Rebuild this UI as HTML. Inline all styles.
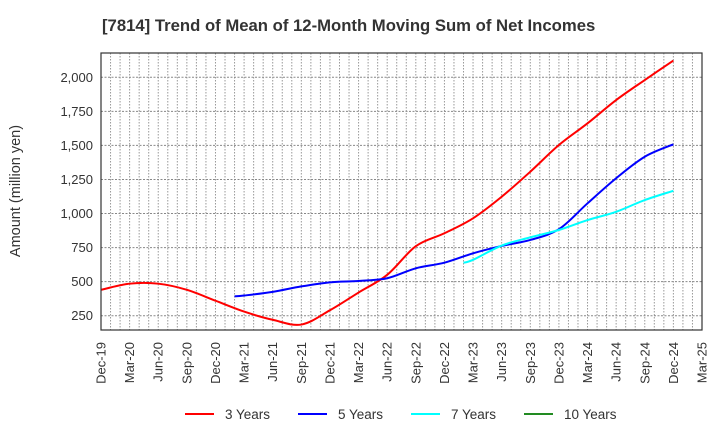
<!DOCTYPE html>
<html><head><meta charset="utf-8"><style>
body{margin:0;background:#fff;}
svg{display:block;font-family:"Liberation Sans",Arial,sans-serif;}
</style></head><body>
<svg id="chart" width="720" height="440">
<text x="102" y="31" font-size="16.7" font-weight="bold" fill="#333">[7814]  Trend of Mean of 12-Month Moving Sum of Net Incomes</text>
<g id="grid"></g>
<g id="series"></g>
<rect x="101" y="53" width="601" height="277" fill="none" stroke="#333" stroke-width="1.2"/>
<g id="yaxis"></g>
<g id="xaxis"></g>
<text transform="translate(20,191) rotate(-90)" text-anchor="middle" font-size="14.5" fill="#333">Amount (million yen)</text>
<g id="legend"></g>
</svg>
<script>
const categories=["Dec-19","Mar-20","Jun-20","Sep-20","Dec-20","Mar-21","Jun-21","Sep-21","Dec-21","Mar-22","Jun-22","Sep-22","Dec-22","Mar-23","Jun-23","Sep-23","Dec-23","Mar-24","Jun-24","Sep-24","Dec-24","Mar-25"];
const yTicks=[250,500,750,1000,1250,1500,1750,2000];
const seriesNames=["3 Years","5 Years","7 Years","10 Years"];
const seriesColors=["#ff0000","#0000ff","#00ffff","#228b22"];
const s3Months=["Dec-19","Mar-20","Jun-20","Sep-20","Dec-20","Mar-21","Jun-21","Sep-21","Dec-21","Mar-22","Jun-22","Sep-22","Dec-22","Mar-23","Jun-23","Sep-23","Dec-23","Mar-24","Jun-24","Sep-24","Dec-24"];
const s3=[440,485,485,440,360,280,220,185,290,420,550,760,855,965,1123,1307,1503,1662,1833,1980,2123];
const s5Months=["Feb-21","Mar-21","Jun-21","Sep-21","Dec-21","Mar-22","Jun-22","Sep-22","Dec-22","Mar-23","Jun-23","Sep-23","Dec-23","Mar-24","Jun-24","Sep-24","Dec-24"];
const s5=[392,398,425,465,495,505,525,598,639,708,762,806,885,1075,1259,1417,1508];
const s7Months=["Feb-23","Mar-23","Jun-23","Sep-23","Dec-23","Mar-24","Jun-24","Sep-24","Dec-24"];
const s7=[639,660,765,825,879,952,1013,1099,1167];
const s10Months=[];
const s10=[];
const allSeries=[[s3Months,s3],[s5Months,s5],[s7Months,s7],[s10Months,s10]];

const MN=["Jan","Feb","Mar","Apr","May","Jun","Jul","Aug","Sep","Oct","Nov","Dec"];
const monthIdx=l=>{const [m,y]=l.split('-');return (parseInt(y)-19)*12+MN.indexOf(m)-11;};
const X0=101,X1=702,Y0=330,Y1=53;
const nm=(categories.length-1)*3;
const xm=i=>X0+i*(X1-X0)/nm;
const yv=v=>315.7-(v-250)*(315.7-77.3)/1750;
const NS="http://www.w3.org/2000/svg";
function mk(tag,attrs,parent){const e=document.createElementNS(NS,tag);for(const k in attrs)e.setAttribute(k,attrs[k]);parent.appendChild(e);return e;}
const grid=document.getElementById('grid');
for(let m=1;m<nm;m++){const x=xm(m);
 const l=mk('line',{x1:x,x2:x,y1:Y1,y2:Y0,stroke:'#999','stroke-width':1,'stroke-dasharray':'1.5,1.5'},grid);
 
 }
const ya=document.getElementById('yaxis');
yTicks.forEach(t=>{const y=yv(t);
 const l=mk('line',{x1:X0,x2:X1,y1:y,y2:y,stroke:'#888','stroke-width':1,'stroke-dasharray':'2,1.5'},grid);
 
 
 const tx=mk('text',{x:93,y:y+4.5,'text-anchor':'end','font-size':13,fill:'#333'},ya);
 tx.textContent=t.toLocaleString('en-US');
 
 });
const xa=document.getElementById('xaxis');
categories.forEach((c,i)=>{const x=xm(monthIdx(c))+4.5;
 const tx=mk('text',{transform:`translate(${x},342) rotate(-90)`,'text-anchor':'end','font-size':13,fill:'#333'},xa);
 tx.textContent=c;
 
 });
const sg=document.getElementById('series');
allSeries.forEach(([ms,s],si)=>{
 const pts=s.map((v,i)=>[xm(monthIdx(ms[i])),yv(v)]);
 if(pts.length<2)return;
 let d=`M${pts[0][0]},${pts[0][1]}`;
 for(let i=0;i<pts.length-1;i++){const p0=pts[Math.max(0,i-1)],p1=pts[i],p2=pts[i+1],p3=pts[Math.min(pts.length-1,i+2)];
  const c1=[p1[0]+(p2[0]-p0[0])/6,p1[1]+(p2[1]-p0[1])/6],c2=[p2[0]-(p3[0]-p1[0])/6,p2[1]-(p3[1]-p1[1])/6];
  d+=` C${c1[0]},${c1[1]} ${c2[0]},${c2[1]} ${p2[0]},${p2[1]}`;}
 const p=mk('path',{d:d,fill:'none',stroke:seriesColors[si],'stroke-width':2},sg);
 
 });
const lg=document.getElementById('legend');
const lx=[185,298,411,524];
seriesNames.forEach((n,i)=>{
 const g=mk('g',{},lg);
 
 
 mk('line',{x1:lx[i],x2:lx[i]+29,y1:414,y2:414,stroke:seriesColors[i],'stroke-width':2},g);
 const t=mk('text',{x:lx[i]+40,y:419,'font-size':13.5,fill:'#333'},g);
 t.textContent=n;});
</script>
</body></html>
